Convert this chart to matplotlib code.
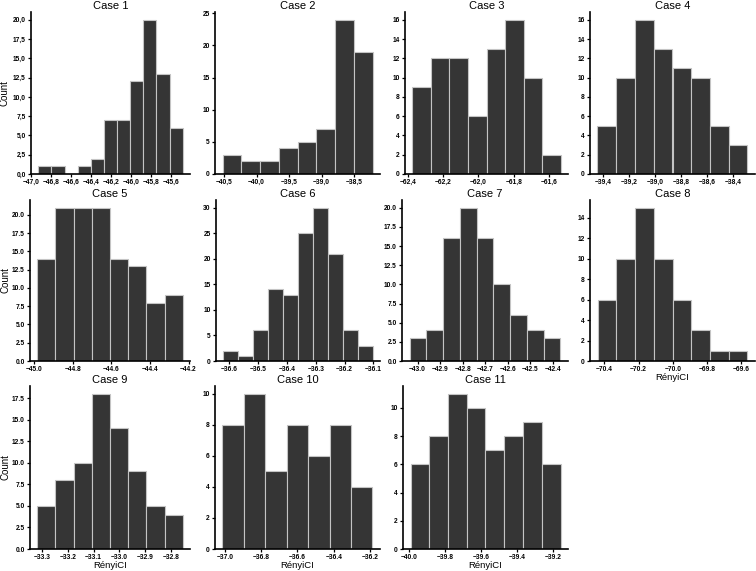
import numpy as np
import matplotlib.pyplot as plt
from matplotlib import ticker

plt.rcParams['font.family'] = ['Liberation Sans', 'DejaVu Sans']

# histogram data: first edge, last edge, counts per bin
titles = ['Case 1', 'Case 2', 'Case 3', 'Case 4', 'Case 5', 'Case 6',
          'Case 7', 'Case 8', 'Case 9', 'Case 10', 'Case 11']
bin_lo = [-46.93, -40.526, -62.375, -39.443, -44.985, -36.621,
          -43.036, -70.44, -33.319, -37.013, -39.993]
bin_hi = [-45.48, -38.218, -61.534, -38.292, -44.23, -36.1026,
          -42.367, -69.563, -32.754, -36.187, -39.157]
counts = [
    [1, 1, 0, 1, 2, 7, 7, 12, 20, 13, 6],
    [3, 2, 2, 4, 5, 7, 24, 19],
    [9, 12, 12, 6, 13, 16, 10, 2],
    [5, 10, 16, 13, 11, 10, 5, 3],
    [14, 21, 21, 21, 14, 13, 8, 9],
    [2, 1, 6, 14, 13, 25, 30, 21, 6, 3],
    [3, 4, 16, 20, 16, 10, 6, 4, 3],
    [6, 10, 15, 10, 6, 3, 1, 1],
    [5, 8, 10, 18, 14, 9, 5, 4],
    [8, 10, 5, 8, 6, 8, 4],
    [6, 8, 11, 10, 7, 8, 9, 6],
]
# tick spacing used on each panel
x_step = [0.2, 0.5, 0.2, 0.2, 0.2, 0.1, 0.1, 0.2, 0.1, 0.2, 0.2]
y_step = [2.5, 5, 2, 2, 2.5, 5, 2.5, 2, 2.5, 2, 2]
x_label = 'RényiCI'
y_label = 'Count'


class CommaFormatter(ticker.ScalarFormatter):
    def __call__(self, x, pos=None):
        return super().__call__(x, pos).replace('.', ',')


W, H = 756, 571
fig = plt.figure(figsize=(W / 100, H / 100), dpi=100)

# axes boxes in pixels: left, top, right, bottom
lefts = [[31, 215, 405, 590], [30, 216, 402, 590], [30, 215, 403]]
rights = [190, 380, 568, 755]
rows = [(12, 174), (200, 361), (386, 549)]

boxes = []
for r, (top, bot) in enumerate(rows):
    for c, l in enumerate(lefts[r]):
        boxes.append((l, top, rights[c], bot))

for i, (l, t, rgt, b) in enumerate(boxes):
    ax = fig.add_axes([l / W, 1 - b / H, (rgt - l) / W, (b - t) / H])
    edges = np.linspace(bin_lo[i], bin_hi[i], len(counts[i]) + 1)
    ax.bar(edges[:-1], counts[i], width=np.diff(edges), align='edge',
           color='#353535', edgecolor='#c4c4c4', linewidth=0.8)
    ax.set_ylim(0, max(counts[i]) * 1.05)
    ax.xaxis.set_major_locator(ticker.MultipleLocator(x_step[i]))
    ax.yaxis.set_major_locator(ticker.MultipleLocator(y_step[i]))
    ax.set_title(titles[i], fontsize=8, pad=2)
    for side in ['top', 'right']:
        ax.spines[side].set_visible(False)
    for side in ['left', 'bottom']:
        ax.spines[side].set_linewidth(1.2)
    ax.tick_params(labelsize=4.8, length=2.2, width=0.9, pad=1.5)
    if i < 4:
        ax.xaxis.set_major_formatter(CommaFormatter())
        ax.yaxis.set_major_formatter(CommaFormatter())
    for lab in ax.get_xticklabels() + ax.get_yticklabels():
        lab.set_fontweight('bold')
    if i in (0, 4, 8):
        ax.set_ylabel(y_label, fontsize=7)
        ax.yaxis.set_label_coords((10 - l) / (rgt - l), 0.5)
    if i >= 7:
        ax.set_xlabel(x_label, fontsize=6.8)
        ax.xaxis.set_label_coords(0.5, -12 / (b - t))

fig.savefig('out.png', dpi=100)
